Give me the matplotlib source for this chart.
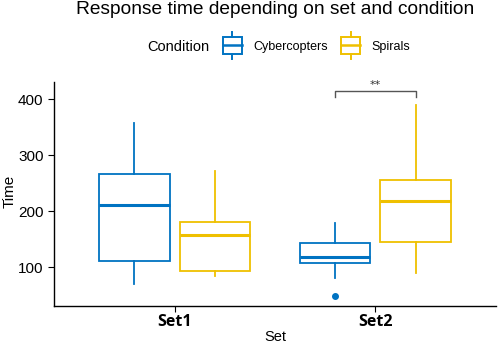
import matplotlib
matplotlib.use("Agg")
import matplotlib.pyplot as plt
from matplotlib.legend_handler import HandlerBase
from matplotlib.patches import Rectangle
from matplotlib.lines import Line2D
import numpy as np

# data
sets        = ["Set1", "Set2"]
conditions  = ["Cybercopters", "Spirals"]
colors      = ["#0073C2", "#EFC000"]

whislo  = {"Cybercopters": [71, 81],   "Spirals": [85, 90]}
q1      = {"Cybercopters": [112, 107], "Spirals": [94, 146]}
medians = {"Cybercopters": [212, 118], "Spirals": [158, 218]}
q3      = {"Cybercopters": [266, 143], "Spirals": [180, 255]}
whishi  = {"Cybercopters": [357, 179], "Spirals": [272, 390]}
fliers  = {"Cybercopters": [[], [49]], "Spirals": [[], []]}

sig_label = "**"
sig_y = 414


class BoxKeyHandler(HandlerBase):
    def create_artists(self, legend, orig_handle, xdescent, ydescent,
                       width, height, fontsize, trans):
        c = orig_handle.get_color()
        cx = width / 2 - xdescent
        bw = width
        bh = 12
        y0 = height / 2 - ydescent - bh / 2
        rect = Rectangle((cx - bw / 2, y0), bw, bh, facecolor="white",
                         edgecolor=c, lw=1.4, transform=trans)
        med = Line2D([cx - bw / 2, cx + bw / 2], [y0 + bh / 2] * 2, color=c, lw=1.8, transform=trans)
        w1 = Line2D([cx, cx], [y0 + bh, y0 + bh + 3.5], color=c, lw=1.4, transform=trans)
        w2 = Line2D([cx, cx], [y0 - 3.5, y0], color=c, lw=1.4, transform=trans)
        return [rect, med, w1, w2]


fig = plt.figure(figsize=(4.98, 3.45), dpi=100)
ax = fig.add_axes([54 / 498, 39 / 345, 442 / 498, 224.3 / 345])

offsets = [-0.2, 0.2]
for i, cond in enumerate(conditions):
    stats = []
    for j, s in enumerate(sets):
        stats.append(dict(med=medians[cond][j], q1=q1[cond][j], q3=q3[cond][j],
                          whislo=whislo[cond][j], whishi=whishi[cond][j],
                          fliers=fliers[cond][j]))
    pos = np.arange(1, len(sets) + 1) + offsets[i]
    c = colors[i]
    ax.bxp(stats, positions=pos, widths=0.35, showcaps=False, patch_artist=True,
           boxprops=dict(facecolor="white", edgecolor=c, lw=1.3),
           medianprops=dict(color=c, lw=2.2),
           whiskerprops=dict(color=c, lw=1.3),
           flierprops=dict(marker="o", markerfacecolor=c, markeredgecolor=c, markersize=4))

# significance bracket for Set2
x1, x2 = 2 + offsets[0], 2 + offsets[1]
ax.plot([x1, x1, x2, x2], [sig_y - 10, sig_y, sig_y, sig_y - 10], color="#555555", lw=1)
ax.text((x1 + x2) / 2, sig_y + 2, sig_label, ha="center", va="bottom", fontsize=8, color="#333333")

ax.set_xlim(0.4, 2.6)
ax.set_ylim(31, 431)
ax.set_xticks([1, 2])
ax.set_xticklabels(sets, fontsize=11.5, fontweight="bold", family="Open Sans")
ax.set_yticks([100, 200, 300, 400])
ax.tick_params(axis="y", labelsize=11, length=4, width=0.8, colors="black")
ax.tick_params(axis="x", length=4, width=0.8, pad=2)
for lab in ax.get_yticklabels():
    lab.set_family("Liberation Sans")
for sp in ["top", "right"]:
    ax.spines[sp].set_visible(False)
ax.spines["left"].set_linewidth(1)
ax.spines["bottom"].set_linewidth(1)

ax.set_xlabel("Set", fontsize=10.5, family="Liberation Sans", va="center")
ax.xaxis.set_label_coords((275.7 - 54) / 442, (306 - 336.7) / 224.3)
ax.set_ylabel("Time", fontsize=11, family="Liberation Sans", va="center")
ax.yaxis.set_label_coords((10 - 54) / 442, (306 - 191.7) / 224.3)

fig.text(275 / 498, 1 - 10 / 345, "Response time depending on set and condition", ha="center", va="center",
         fontsize=13.8, family="Liberation Sans")
fig.text(147 / 498, 1 - 46.7 / 345, "Condition", ha="left", va="center",
         fontsize=10.5, family="Liberation Sans")

handles = [Line2D([], [], color=c) for c in colors]
leg = fig.legend(handles, conditions, handler_map={Line2D: BoxKeyHandler()},
                 loc="center left", bbox_to_anchor=(223 / 498, 1 - 46.7 / 345), ncol=2,
                 frameon=False, prop={"family": "Liberation Sans", "size": 9},
                 handlelength=1.5, handletextpad=0.9, columnspacing=1.1, borderaxespad=0,
                 borderpad=0)

fig.savefig("out.png", dpi=100)
